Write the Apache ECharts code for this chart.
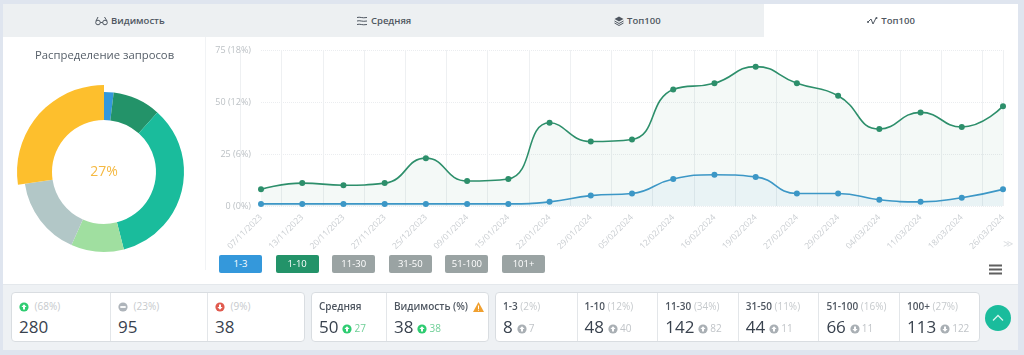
<!DOCTYPE html>
<html>
<head>
<meta charset="utf-8">
<script src="https://cdn.jsdelivr.net/npm/echarts@6/dist/echarts.min.js"></script>
<style>
html, body { margin: 0; width: 1024px; height: 355px; overflow: hidden; background: #dfe5ef; font-family: "Open Sans", sans-serif; color: #4a525c; }
.panel { position: absolute; left: 3px; top: 4px; width: 1015px; height: 346px; background: #fff; }
#chart { position: absolute; left: 0; top: 0; width: 1024px; height: 355px; }
.tab { position: absolute; top: 4px; height: 33px; line-height: 33px; background: #edf0f2; text-align: center; font-size: 9.5px; font-weight: 600; color: #4f5761; }
.tab.active { background: #fff; }
.tab svg { vertical-align: -2px; margin-right: 3px; }
.vline { position: absolute; left: 205px; top: 37px; width: 1px; height: 233px; background: #f1f3f5; }
.range-btn { position: absolute; top: 255px; width: 43px; height: 18px; line-height: 18px; border-radius: 2px; text-align: center; color: #fff; font-size: 9.5px; background: #9aa3a3; }
.band { position: absolute; left: 3px; top: 284px; width: 1015px; height: 66px; background: #eef1f4; border-top: 1px solid #e4e8ec; box-sizing: border-box; }
.card { position: absolute; top: 292px; height: 50px; background: #fff; border: 1px solid #d9dde1; border-radius: 4px; box-sizing: border-box; }
.cell { position: absolute; top: 0; height: 48px; border-left: 1px solid #e3e6e9; box-sizing: border-box; }
.cell:first-child { border-left: 0; }
.head { position: absolute; left: 7px; top: 6px; font-size: 10px; font-weight: 600; white-space: nowrap; color: #4f5761; line-height: 14px; }
.head i { font-style: normal; font-weight: 400; color: #c6cacd; }
.head svg { vertical-align: -2px; margin-right: 3px; }
.num { position: absolute; left: 7px; top: 22px; font-size: 17px; line-height: 24px; white-space: nowrap; color: #39424e; font-weight: 500; }
.num small { font-size: 10px; font-weight: 400; color: #c0c4c8; margin-left: 2px; vertical-align: 1px; }
.num small.good { color: #6fcf97; }
.num svg { vertical-align: -1px; margin-left: 4px; }
.top-btn { position: absolute; left: 985px; top: 305px; width: 26px; height: 26px; border-radius: 50%; background: #1abc9c; }
.menu { position: absolute; left: 989px; top: 264px; width: 13px; height: 11px; }
</style>
</head>
<body>
<div class="panel"></div>
<div id="tabs"></div>
<div class="vline"></div>
<div class="band"></div>
<div id="chart"></div>
<div id="ranges"></div>
<svg class="menu" viewBox="0 0 13 11"><path d="M0 1.5h13M0 5.5h13M0 9.5h13" stroke="#5f5f5f" stroke-width="2"/></svg>
<div id="cards"></div>
<div class="top-btn"><svg width="26" height="26" viewBox="0 0 26 26"><path d="M8 15.5l5-5 5 5" fill="none" stroke="#d8f5ee" stroke-width="1.3"/></svg></div>

<script>
const categories = ["07/11/2023", "13/11/2023", "20/11/2023", "27/11/2023", "25/12/2023", "09/01/2024", "15/01/2024", "22/01/2024", "29/01/2024", "05/02/2024", "12/02/2024", "16/02/2024", "19/02/2024", "27/02/2024", "29/02/2024", "04/03/2024", "11/03/2024", "18/03/2024", "26/03/2024"];
const top3Values = [1, 1, 1, 1, 1, 1, 1, 2, 5, 6, 13, 15, 14, 6, 6, 3, 2, 4, 8];
const top10Values = [8, 11, 10, 11, 23, 12, 13, 40, 31, 32, 56, 59, 67, 59, 53, 37, 45, 38, 48];
const yTicks = [0, 25, 50, 75];
const yTickLabels = ["0 (0%)", "25 (6%)", "50 (12%)", "75 (18%)"];

// в кольце "1-10" без "1-3": 48 - 8 = 40
const pieNames = ["1-3", "1-10", "11-30", "31-50", "51-100", "100+"];
const pieValues = [8, 40, 142, 44, 66, 113];
const pieColors = ["#3498db", "#239369", "#1abc9c", "#a0dfa0", "#b2c7c7", "#fdbf2d"];

const statNames = ["1-3", "1-10", "11-30", "31-50", "51-100", "100+"];
const statValues = [8, 48, 142, 44, 66, 113];
const statPercents = ["2%", "12%", "34%", "11%", "16%", "27%"];
const statDeltas = [7, 40, 82, 11, 11, 122];
const statDeltaUp = [true, true, true, true, false, false];

const legendNames = ["1-3", "1-10", "11-30", "31-50", "51-100", "101+"];
const legendColors = ["#3498db", "#239369", "#9aa3a3", "#9aa3a3", "#9aa3a3", "#9aa3a3"];

const tabNames = ["Видимость", "Средняя", "Топ100", "Топ100"];

function arrowIcon(color, kind) {
  const inner = kind === "up" ? '<path d="M5 2.2L2.4 5h1.6v2.6h2V5h1.6z" fill="#fff"/>'
    : kind === "down" ? '<path d="M5 7.8L2.4 5h1.6V2.4h2V5h1.6z" fill="#fff"/>'
    : '<rect x="2.3" y="4.1" width="5.4" height="1.8" fill="#fff"/>';
  return `<svg width="10" height="10" viewBox="0 0 10 10"><circle cx="5" cy="5" r="4.6" fill="${color}"/>${inner}</svg>`;
}

const tabIcons = [
  '<svg width="13" height="10" viewBox="0 0 13 10"><g fill="none" stroke="#4f5761" stroke-width="1"><circle cx="3" cy="6.5" r="2.3"/><circle cx="10" cy="6.5" r="2.3"/><path d="M5.3 6.5h2.4M1 5L3 1M12 5L9.5 1"/></g></svg>',
  '<svg width="12" height="10" viewBox="0 0 12 10"><path d="M1 1.5c3-1 5 1 10 0M1 5c3-1 5 1 10 0M1 8.5c3-1 5 1 10 0" fill="none" stroke="#4f5761" stroke-width="1"/></svg>',
  '<svg width="10" height="10" viewBox="0 0 10 10"><path d="M5 .5L9.5 3 5 5.5.5 3z" fill="#4f5761"/><path d="M.5 5L5 7.5 9.5 5M.5 7L5 9.5 9.5 7" fill="none" stroke="#4f5761"/></svg>',
  '<svg width="11" height="10" viewBox="0 0 11 10"><path d="M1 6L4 3l2 5 3-6" fill="none" stroke="#4f5761" stroke-width="1"/><circle cx="1" cy="6" r="1" fill="#4f5761"/><circle cx="9.5" cy="2" r="1" fill="#4f5761"/></svg>'
];

document.getElementById("tabs").innerHTML = tabNames.map((name, i) =>
  `<div class="tab${i === 3 ? " active" : ""}" style="left:${3 + i * 253.75}px;width:253.75px">${tabIcons[i]}${name}</div>`
).join("");

document.getElementById("ranges").innerHTML = legendNames.map((name, i) =>
  `<div class="range-btn" style="left:${219 + i * 56.6}px;background:${legendColors[i]}">${name}</div>`
).join("");

const warnIcon = '<svg width="11" height="10" viewBox="0 0 11 10" style="margin:0 0 0 2px"><path d="M5.5 0L11 10H0z" fill="#f0a030"/><rect x="5" y="3.5" width="1" height="3.5" fill="#fff"/><rect x="5" y="7.7" width="1" height="1" fill="#fff"/></svg>';

function cell(left, width, head, num) {
  return `<div class="cell" style="left:${left}px;width:${width}px"><div class="head">${head}</div><div class="num">${num}</div></div>`;
}

let cardsHtml = "";
cardsHtml += `<div class="card" style="left:11px;width:294px">` +
  cell(0, 98, `${arrowIcon("#2ecc71", "up")} <i>(68%)</i>`, "280") +
  cell(98, 97, `${arrowIcon("#aeb4ba", "flat")} <i>(23%)</i>`, "95") +
  cell(195, 97, `${arrowIcon("#e05a4e", "down")} <i>(9%)</i>`, "38") + `</div>`;
cardsHtml += `<div class="card" style="left:311px;width:178px">` +
  cell(0, 74, "Средняя", `50${arrowIcon("#2ecc71", "up")}<small class="good">27</small>`) +
  cell(74, 102, `Видимость (%) ${warnIcon}`, `38${arrowIcon("#2ecc71", "up")}<small class="good">38</small>`) + `</div>`;
cardsHtml += `<div class="card" style="left:495px;width:485px">` + statNames.map((name, i) => {
  const icon = arrowIcon("#a9afb4", statDeltaUp[i] ? "up" : "down");
  return cell(i * 80.6, 80.6, `${name} <i>(${statPercents[i]})</i>`, `${statValues[i]}${icon}<small>${statDeltas[i]}</small>`);
}).join("") + `</div>`;
document.getElementById("cards").innerHTML = cardsHtml;

const chart = echarts.init(document.getElementById("chart"));
chart.setOption({
  animation: false,
  title: {
    text: "Распределение запросов",
    left: 30, top: 45,
    textStyle: { fontFamily: "Open Sans", fontSize: 11.3, fontWeight: 400, color: "#555e68" }
  },
  graphic: [{
    type: "text", left: 1003, top: 239,
    style: { text: "≫", fontSize: 10, fill: "#dcdfe2", fontFamily: "DejaVu Sans" }
  }],
  grid: [
    { left: 261, right: 21, top: 50, bottom: 149 },
    { left: 240.4, right: 21, top: 50, bottom: 149 }
  ],
  xAxis: [
    {
      type: "category", gridIndex: 0, data: categories, boundaryGap: false,
      axisLine: { show: false }, axisTick: { show: false }, splitLine: { show: false },
      axisLabel: { interval: 0, rotate: 45, margin: 10, fontSize: 8.5, color: "#c8ccd0", fontFamily: "Open Sans" }
    },
    {
      // вертикальные линии идут между точками
      type: "value", gridIndex: 1, min: 0, max: 18.5, interval: 1,
      axisLine: { show: false }, axisTick: { show: false }, axisLabel: { show: false },
      splitLine: { show: true, lineStyle: { color: "#eef0f2", width: 1 } }
    }
  ],
  yAxis: [
    {
      type: "value", gridIndex: 0, min: 0, max: 75, interval: 25,
      axisLine: { show: false }, axisTick: { show: false },
      axisLabel: {
        margin: 10, fontSize: 9, color: "#bcc1c5", fontFamily: "Open Sans",
        formatter: (v) => yTickLabels[yTicks.indexOf(v)]
      },
      splitLine: { lineStyle: { color: "#ebedf0", type: "dotted" } }
    },
    { type: "value", gridIndex: 1, min: 0, max: 75, show: false }
  ],
  series: [
    {
      name: "1-10", type: "line", data: top10Values, smooth: 0.5,
      symbol: "circle", symbolSize: 6, z: 3,
      lineStyle: { color: "#2d8f6b", width: 1.6 },
      itemStyle: { color: "#2d8f6b" },
      areaStyle: { color: "rgba(35,147,105,0.07)" }
    },
    {
      name: "1-3", type: "line", data: top3Values, smooth: 0.5,
      symbol: "circle", symbolSize: 6, z: 4,
      lineStyle: { color: "#3c97c6", width: 1.6 },
      itemStyle: { color: "#3c97c6" },
      areaStyle: { color: "rgba(52,152,219,0.08)" }
    },
    {
      name: "Распределение запросов", type: "pie",
      center: [104, 172], radius: [52, 80], startAngle: 90, clockwise: true,
      percentPrecision: 0,
      stateAnimation: { duration: 0 },
      color: pieColors,
      data: pieNames.map((name, i) => ({
        name, value: pieValues[i],
        emphasis: { itemStyle: { color: pieColors[i] } }
      })),
      label: { show: false, position: "center" },
      labelLine: { show: false },
      emphasis: {
        scale: true, scaleSize: 7,
        label: { show: true, formatter: "{d}%", fontSize: 14, fontFamily: "Open Sans", color: "#f5b942" }
      }
    }
  ]
});
chart.dispatchAction({ type: "highlight", seriesIndex: 2, dataIndex: 5 });
</script>
</body>
</html>
